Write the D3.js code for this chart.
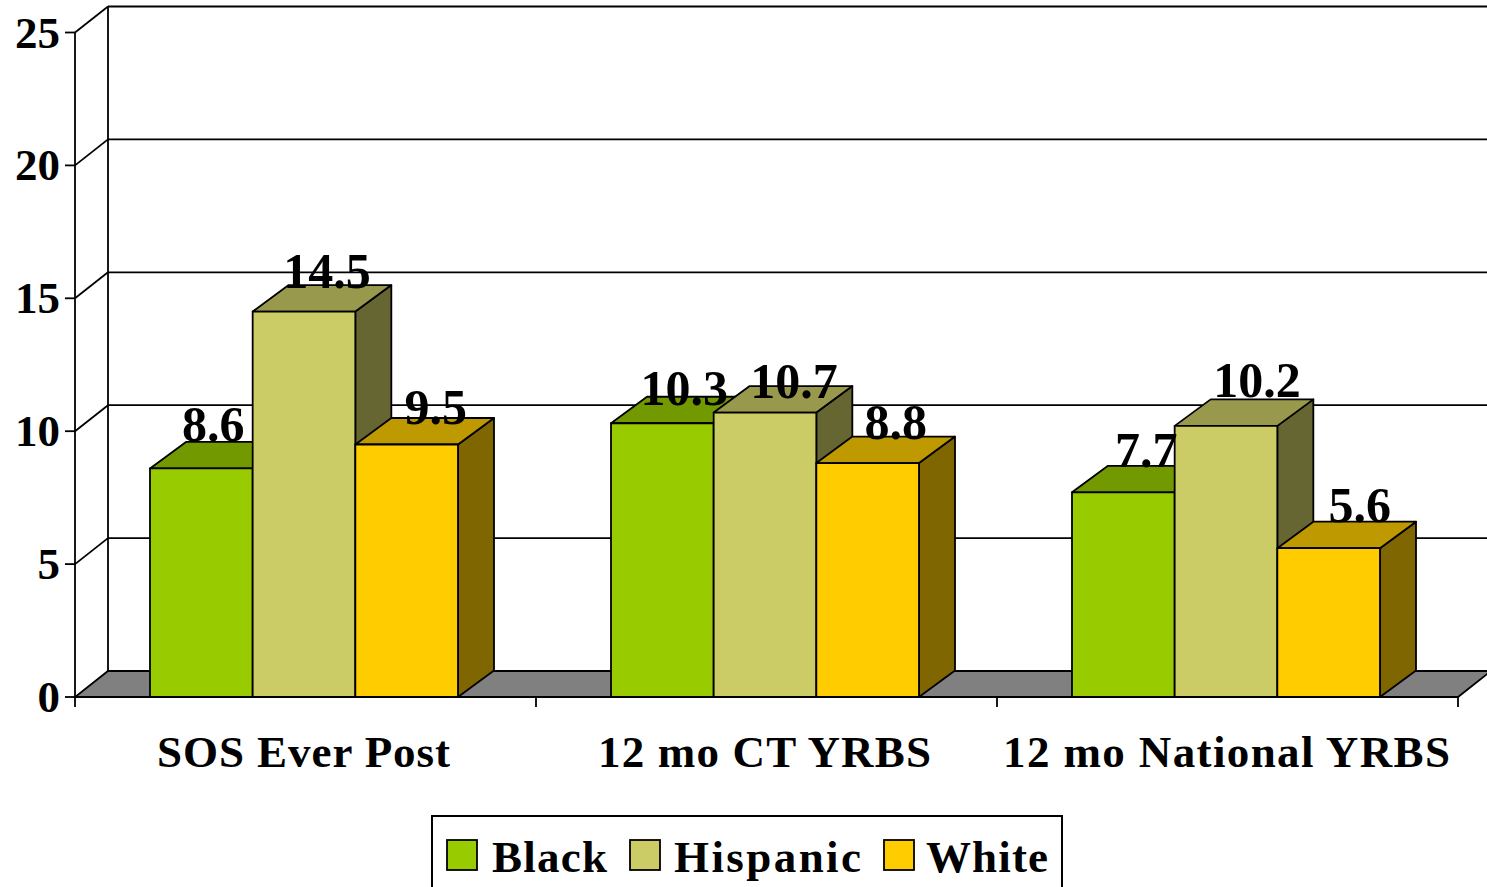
<!DOCTYPE html>
<html><head><meta charset="utf-8"><style>html,body{margin:0;padding:0;background:#fff;overflow:hidden}svg{display:block}text{font-family:"Liberation Serif","DejaVu Serif",serif;font-weight:bold;fill:#000}</style>
<script src="https://cdn.jsdelivr.net/npm/d3@7/dist/d3.min.js"></script></head><body><svg id="c" width="1487" height="887"></svg>
<script>
const categories=["SOS Ever Post","12 mo CT YRBS","12 mo National YRBS"];
const seriesNames=["Black","Hispanic","White"];
const black=[8.6,10.3,7.7];
const hispanic=[14.5,10.7,10.2];
const white=[9.5,8.8,5.6];
const yTicks=[0,5,10,15,20,25];
const front=["#99cc00","#cccc66","#ffcc00"];
const topC=["#739900","#99994d","#bf9900"];
const side=["#4d6600","#666633","#806600"];
// label placement nudges [dx,dy] per series, per category
const labelNudge=[[[-17,-2],[-7,7],[-6,0]],[[-6,1],[0,10],[2,-4]],[[0,5],[-1,1],[2,-1]]];
const svg=d3.select("#c");
const y=d3.scaleLinear().domain([0,25]).range([697,32.5]);
const x0=d3.scaleBand().domain(categories).range([75,1458]);
const dx=33,dy=-26,bdx=36,bdy=-26.5;
const P=a=>a.map(p=>p.join(",")).join(" ");
const line=(a,b,c,d,w=1.8)=>svg.append("line").attr("x1",a).attr("y1",b).attr("x2",c).attr("y2",d).attr("stroke","#000").attr("stroke-width",w);
svg.append("polygon").attr("points",P([[75,697],[1458,697],[1458+dx,697+dy],[75+dx,697+dy]])).attr("fill","#808080").attr("stroke","#000").attr("stroke-width",1.8);
yTicks.forEach(t=>{const yy=y(t);
 if(t>0){line(75,yy,75+dx,yy+dy);line(75+dx,yy+dy,1487,yy+dy);}
 line(65,yy,75,yy);
});
line(75,y(0),75,y(25));line(75+dx,y(0)+dy,75+dx,y(25)+dy);
line(75,697,1458,697,2.2);
categories.forEach(c=>{const a=x0(c);line(a,697,a,707);});
line(1458,697,1458,707);
const barOffsets=d3.scaleBand().domain(seriesNames).range([0,308]);
const series=[black,hispanic,white];
categories.forEach(c=>{
 const bx=x0(c)+75;
 seriesNames.forEach((s,si)=>{
  const v=series[si][categories.indexOf(c)];
  const xa=bx+barOffsets(s),w=barOffsets.bandwidth(),yt=y(v),yb=y(0);
  const poly=(pts,f)=>svg.append("polygon").attr("points",P(pts)).attr("fill",f).attr("stroke","#000").attr("stroke-width",1.8).attr("stroke-linejoin","round");
  poly([[xa+w,yb],[xa+w+bdx,yb+bdy],[xa+w+bdx,yt+bdy],[xa+w,yt]],side[si]);
  poly([[xa,yt],[xa+bdx,yt+bdy],[xa+w+bdx,yt+bdy],[xa+w,yt]],topC[si]);
  poly([[xa,yb],[xa+w,yb],[xa+w,yt],[xa,yt]],front[si]);
 });
});
categories.forEach((c,ci)=>{
 const bx=x0(c)+75;
 seriesNames.forEach((s,si)=>{
  const v=series[si][ci],n=labelNudge[si][ci];
  svg.append("text").attr("x",bx+barOffsets(s)+barOffsets.bandwidth()/2+29+n[0]).attr("y",y(v)-25+n[1]).attr("text-anchor","middle").attr("font-size",50).text(v.toFixed(1));
 });
});
yTicks.forEach(t=>svg.append("text").attr("x",60).attr("y",y(t)+15).attr("text-anchor","end").attr("font-size",45).text(t));
const catX=[157,598,1003],catW=[293,333,447];
categories.forEach((c,i)=>svg.append("text").attr("x",catX[i]).attr("y",767).attr("font-size",45).attr("textLength",catW[i]).attr("lengthAdjust","spacing").text(c));
svg.append("rect").attr("x",432).attr("y",816).attr("width",630).attr("height",80).attr("fill","#fff").attr("stroke","#000").attr("stroke-width",2);
const lx=[447,630,884],tx=[492,674,926],tw=[115,187,122];
seriesNames.forEach((s,i)=>{
 svg.append("rect").attr("x",lx[i]).attr("y",840).attr("width",30).attr("height",30).attr("fill",front[i]).attr("stroke","#000").attr("stroke-width",1.8);
 svg.append("text").attr("x",tx[i]).attr("y",872).attr("font-size",45).attr("textLength",tw[i]).attr("lengthAdjust","spacing").text(s);
});
</script></body></html>
